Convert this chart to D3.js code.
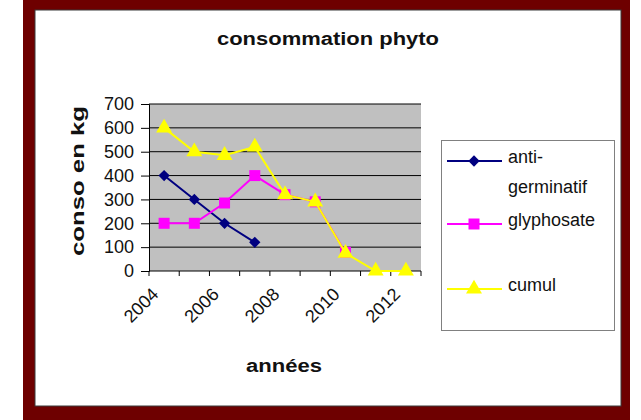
<!DOCTYPE html>
<html>
<head>
<meta charset="utf-8">
<script src="https://cdn.jsdelivr.net/npm/d3@7"></script>
<style>
  body { margin: 0; background: #fff; }
  svg text { font-family: Arial, "Liberation Sans", sans-serif; fill: #111; }
</style>
</head>
<body>
<svg id="chart" width="641" height="420"></svg>
<script>
// data
const years = ["2004", "2005", "2006", "2007", "2008", "2009", "2010", "2011", "2012"];
const yTicks = [0, 100, 200, 300, 400, 500, 600, 700];
const xLabels = ["2004", "2006", "2008", "2010", "2012"];
const antiGerminatif = [400, 300, 200, 120];
const glyphosate = [200, 200, 285, 400, 320, 290, 78];
const cumul = [600, 500, 485, 520, 320, 290, 75, 0, 0];

// diamond = square turned by 45deg
const series = [
  { name: "anti-germinatif", lines: ["anti-", "germinatif"], values: antiGerminatif, color: "#000080", symbol: d3.symbolSquare, size: 64, rot: 45 },
  { name: "glyphosate", lines: ["glyphosate"], values: glyphosate, color: "#ff00ff", symbol: d3.symbolSquare, size: 121, rot: 0 },
  { name: "cumul", lines: ["cumul"], values: cumul, color: "#ffff00", symbol: d3.symbolTriangle, size: 110, rot: 0 }
];

const svg = d3.select("#chart");
const plot = { left: 149, right: 421, top: 104, bottom: 271 };

// frame
svg.append("rect").attr("x", 23).attr("y", -5).attr("width", 607).attr("height", 430).attr("fill", "#6e0000");
svg.append("rect").attr("x", 35).attr("y", 10).attr("width", 586).attr("height", 396)
  .attr("fill", "#fff").attr("stroke", "#3a3a3a").attr("stroke-width", 1);

const x = d3.scaleBand().domain(years).range([plot.left, plot.right]).padding(0);
const y = d3.scaleLinear().domain([0, 700]).range([plot.bottom, plot.top]);
const cx = d => x(d) + x.bandwidth() / 2;

// plot area
svg.append("rect")
  .attr("x", plot.left).attr("y", plot.top)
  .attr("width", plot.right - plot.left).attr("height", plot.bottom - plot.top)
  .attr("fill", "#c0c0c0");

// gridlines
svg.append("g").selectAll("line").data(yTicks.filter(d => d > 0)).join("line")
  .attr("x1", plot.left).attr("x2", plot.right)
  .attr("y1", d => y(d)).attr("y2", d => y(d))
  .attr("stroke", "#000").attr("stroke-width", 1);

// y axis
const yAxis = svg.append("g")
  .attr("transform", `translate(${plot.left},0)`)
  .call(d3.axisLeft(y).tickValues(yTicks).tickSize(8).tickPadding(7));
yAxis.select(".domain").attr("stroke", "#000");
yAxis.selectAll(".tick line").attr("stroke", "#000");
yAxis.selectAll("text").attr("font-size", 18).attr("fill", "#111")
  .attr("font-family", "Arial, 'Liberation Sans', sans-serif");

// x axis: line + boundary ticks
const xg = svg.append("g");
xg.append("line").attr("x1", plot.left).attr("x2", plot.right)
  .attr("y1", plot.bottom).attr("y2", plot.bottom).attr("stroke", "#000");
const bounds = years.map(d => x(d)).concat([x(years[years.length - 1]) + x.bandwidth()]);
xg.selectAll("line.tk").data(bounds).join("line").attr("class", "tk")
  .attr("x1", d => d).attr("x2", d => d)
  .attr("y1", plot.bottom).attr("y2", plot.bottom + 5).attr("stroke", "#000");
xg.selectAll("text").data(xLabels).join("text")
  .attr("transform", d => `translate(${cx(d) - 9},${plot.bottom + 20}) rotate(-45)`)
  .attr("text-anchor", "end")
  .attr("dy", "0.35em")
  .attr("font-size", 18)
  .text(d => d);

// lines + markers
const line = d3.line().x((d, i) => cx(years[i])).y(d => y(d));
series.forEach(s => {
  const g = svg.append("g");
  g.append("path").datum(s.values).attr("d", line)
    .attr("fill", "none").attr("stroke", s.color).attr("stroke-width", 2);
  g.selectAll("path.m").data(s.values).join("path").attr("class", "m")
    .attr("transform", (d, i) => `translate(${cx(years[i])},${y(d)}) rotate(${s.rot})`)
    .attr("d", d3.symbol().type(s.symbol).size(s.size))
    .attr("fill", s.color);
});

// titles
svg.append("text").attr("x", 328).attr("y", 45).attr("text-anchor", "middle")
  .attr("font-size", 18).attr("font-weight", "bold")
  .attr("textLength", 222).attr("lengthAdjust", "spacingAndGlyphs")
  .text("consommation phyto");
svg.append("text").attr("x", 284).attr("y", 372).attr("text-anchor", "middle")
  .attr("font-size", 18).attr("font-weight", "bold")
  .attr("textLength", 76).attr("lengthAdjust", "spacingAndGlyphs")
  .text("années");
svg.append("text").attr("transform", "translate(84,181) rotate(-90)").attr("text-anchor", "middle")
  .attr("font-size", 19).attr("font-weight", "bold")
  .attr("textLength", 150).attr("lengthAdjust", "spacingAndGlyphs")
  .text("conso en kg");

// legend
const legend = svg.append("g");
legend.append("rect").attr("x", 441.5).attr("y", 140.5).attr("width", 173).attr("height", 190)
  .attr("fill", "#fff").attr("stroke", "#808080").attr("stroke-width", 1);
const rowY = [161, 224, 289];
series.forEach((s, i) => {
  const row = legend.append("g").attr("transform", `translate(0,${rowY[i]})`);
  row.append("line").attr("x1", 447).attr("x2", 502).attr("y1", 0).attr("y2", 0)
    .attr("stroke", s.color).attr("stroke-width", 2);
  row.append("path").attr("transform", `translate(474,0) rotate(${s.rot})`)
    .attr("d", d3.symbol().type(s.symbol).size(s.size)).attr("fill", s.color);
  row.selectAll("text").data(s.lines).join("text")
    .attr("x", 508).attr("y", (d, j) => j * 30 - 4)
    .attr("dy", "0.35em").attr("font-size", 18)
    .text(d => d);
});
</script>
</body>
</html>
